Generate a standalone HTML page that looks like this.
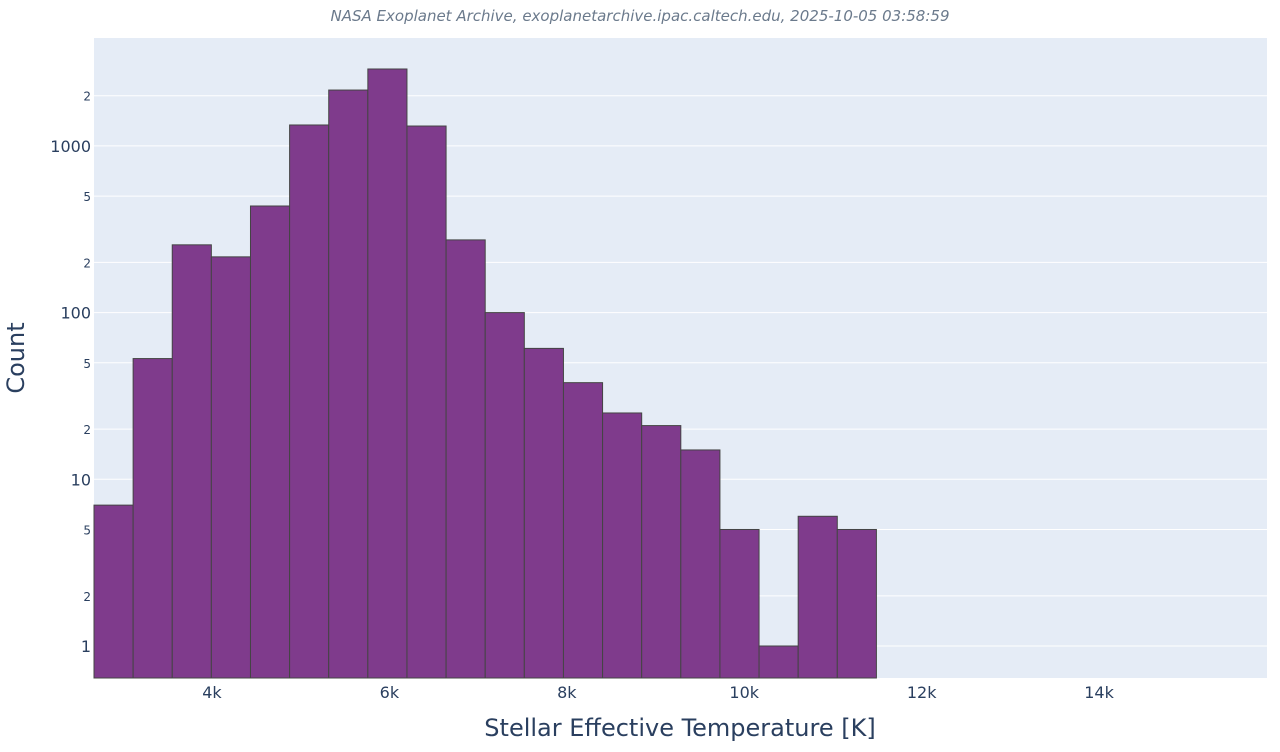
<!DOCTYPE html>
<html><head><meta charset="utf-8"><style>
body{margin:0;background:#fff;font-family:"DejaVu Sans",sans-serif}
svg text{font-family:"DejaVu Sans","Liberation Sans",sans-serif}
</style></head><body>
<svg id="chart" width="1280" height="748" xmlns="http://www.w3.org/2000/svg">
<text x="640" y="21" text-anchor="middle" font-size="15" font-style="italic" fill="#6b7a8c">NASA Exoplanet Archive, exoplanetarchive.ipac.caltech.edu, 2025-10-05 03:58:59</text>
<rect x="94" y="38" width="1173" height="640" fill="#e5ecf6"/>
<g id="grid"></g>
<g id="bars"></g>
<g id="yticks"></g>
<g id="xticks"></g>
<text x="680" y="736" text-anchor="middle" font-size="24" fill="#2a3f5f">Stellar Effective Temperature [K]</text>
<text transform="translate(24,358) rotate(-90)" text-anchor="middle" font-size="24" fill="#2a3f5f">Count</text>
</svg>
<script>
const binStart = 2670;
const binSize = 441;
const counts = [7, 53, 255, 216, 436, 1335, 2163, 2893, 1316, 273, 100, 61, 38, 25, 21, 15, 5, 1, 6, 5];
const xTickValues = [4000, 6000, 8000, 10000, 12000, 14000];
const xTickLabels = ["4k", "6k", "8k", "10k", "12k", "14k"];
const yTickValues = [1, 2, 5, 10, 20, 50, 100, 200, 500, 1000, 2000];
const yTickLabels = ["1", "2", "5", "10", "2", "5", "100", "2", "5", "1000", "2"];

const NS = "http://www.w3.org/2000/svg";
const L = 94, R = 1267, T = 38, B = 678;
const xMin = 2670, xMax = 15893;
const x = v => L + (v - xMin) / (xMax - xMin) * (R - L);
const y = v => 646 - 166.7 * Math.log10(v);
function mk(tag, attrs, parent){const e=document.createElementNS(NS,tag);for(const k in attrs)e.setAttribute(k,attrs[k]);parent.appendChild(e);return e;}

const grid = document.getElementById('grid');
const yt = document.getElementById('yticks');
yTickValues.forEach((v,i)=>{
  const g = mk('line',{x1:L,x2:R,y1:y(v),y2:y(v),stroke:'#fff','stroke-width':1},grid);
  
  
  const major = Math.log10(v)%1===0;
  const t = mk('text',{x:91,y:y(v)+(major?6:5),'text-anchor':'end','font-size':major?16:12,fill:'#2a3f5f'},yt);
  t.textContent = yTickLabels[i];
  
  
});
const xt = document.getElementById('xticks');
xTickValues.forEach((v,i)=>{
  const t = mk('text',{x:x(v),y:698,'text-anchor':'middle','font-size':16,fill:'#2a3f5f'},xt);
  t.textContent = xTickLabels[i];
  
  
});
const bars = document.getElementById('bars');
counts.forEach((c,i)=>{
  const x0 = Math.max(L, x(binStart + i*binSize)), x1 = x(binStart + (i+1)*binSize);
  const top = y(c);
  const r = mk('rect',{x:x0,y:top,width:x1-x0,height:B-top,fill:'#7f3b8c',stroke:'#444','stroke-width':1},bars);
  
  
});
</script>
</body></html>
